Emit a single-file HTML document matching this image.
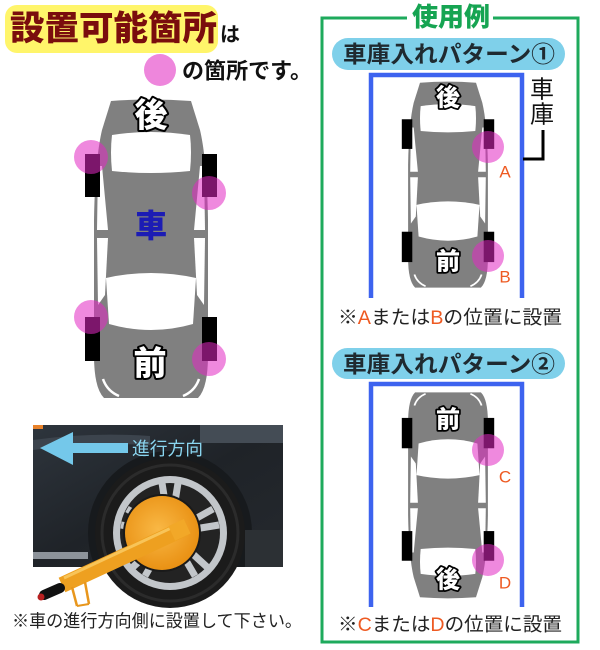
<!DOCTYPE html>
<html><head><meta charset="utf-8">
<style>
html,body{margin:0;padding:0;background:#fff;}
svg{display:block;}
text{font-family:"Liberation Sans","Noto Sans CJK JP",sans-serif;}
</style></head>
<body>
<svg width="600" height="650" viewBox="0 0 600 650" xmlns="http://www.w3.org/2000/svg">
<defs>
  <g id="car">
    <path d="M -40,1 Q 0,-2 40,1 L 49,30 Q 56,60 57,120 L 57,255 Q 57,288 47,298 L -47,298 Q -57,288 -57,255 L -57,120 Q -56,60 -49,30 Z" fill="#808080"/>
    <path d="M -39,35 Q 0,29 39,35 Q 41,52 39,71 Q 0,75 -39,71 Q -41,52 -39,35 Z" fill="#fff"/>
    <path d="M -53,66 L -49,66 L -43,130 L -54,130 Z" fill="#fff"/>
    <path d="M 53,66 L 49,66 L 43,130 L 54,130 Z" fill="#fff"/>
    <path d="M -54,138 L -43,138 L -46,195 L -53,205 Z" fill="#fff"/>
    <path d="M 54,138 L 43,138 L 46,195 L 53,205 Z" fill="#fff"/>
    <path d="M -45,178 Q 0,168 45,178 L 42,224 Q 0,236 -42,224 Z" fill="#fff"/>
    <path d="M -48,279 Q -44,291 -32,296" stroke="#fff" stroke-width="2.5" fill="none"/>
    <path d="M 48,279 Q 44,291 32,296" stroke="#fff" stroke-width="2.5" fill="none"/>
    <rect x="-66" y="54" width="15" height="43" fill="#000"/>
    <rect x="51" y="54" width="15" height="43" fill="#000"/>
    <rect x="-66" y="217" width="15" height="44" fill="#000"/>
    <rect x="51" y="217" width="15" height="44" fill="#000"/>
  </g>
  <radialGradient id="disk" cx="0.45" cy="0.45" r="0.6">
    <stop offset="0" stop-color="#f9b845"/>
    <stop offset="1" stop-color="#e88e10"/>
  </radialGradient>
  <linearGradient id="body" x1="0" y1="0" x2="1" y2="1">
    <stop offset="0" stop-color="#2e353d"/>
    <stop offset="0.5" stop-color="#1f2328"/>
    <stop offset="1" stop-color="#25292e"/>
  </linearGradient>
  <clipPath id="photo"><rect x="33" y="425" width="250" height="142"/></clipPath>
</defs>

<!-- Title -->
<rect x="5" y="5" width="213" height="48" rx="12" fill="#fff56a"/>
<text x="10" y="29" font-size="34" font-weight="900" fill="#7a0d0d" dominant-baseline="central" textLength="207" lengthAdjust="spacingAndGlyphs">設置可能箇所</text>
<text x="220" y="35" font-size="20" font-weight="700" fill="#111" dominant-baseline="central">は</text>
<circle cx="160" cy="70" r="16" fill="#ee86dc"/>
<text x="182" y="71" font-size="22" font-weight="700" fill="#111" dominant-baseline="central" textLength="130" lengthAdjust="spacingAndGlyphs">の箇所です。</text>

<!-- Left car -->
<use href="#car" transform="translate(151,100)"/>
<g fill="rgb(225,40,195)" fill-opacity="0.55">
  <circle cx="91" cy="157" r="17"/>
  <circle cx="209" cy="193" r="17"/>
  <circle cx="91" cy="317" r="17"/>
  <circle cx="209" cy="359" r="17"/>
</g>
<g font-size="33" font-weight="900" fill="#fff" stroke="#000" stroke-width="4" paint-order="stroke" stroke-linejoin="round" text-anchor="middle" dominant-baseline="central">
  <text x="151" y="115">後</text>
  <text x="150" y="363">前</text>
</g>
<text x="151" y="226" font-size="32" font-weight="900" fill="#1c1cb4" text-anchor="middle" dominant-baseline="central">車</text>

<!-- Photo -->
<g clip-path="url(#photo)">
  <rect x="33" y="425" width="250" height="142" fill="url(#body)"/>
  <rect x="200" y="425" width="83" height="18" fill="#444c55"/>
  <path d="M33,440 Q90,432 150,436 L150,445 Q90,442 33,450 Z" fill="#3c444d"/>
  <rect x="33" y="425" width="10" height="4" fill="#e8822a"/>
  <circle cx="170" cy="533" r="82" fill="#171a1d"/>
  <rect x="245" y="530" width="38" height="37" fill="#2c3034"/>
  <rect x="33" y="552" width="55" height="7" fill="#8d939a"/>
</g>
<circle cx="170" cy="533" r="75" fill="#1b1b1b"/>
<circle cx="170" cy="533" r="68" fill="none" stroke="#2b2b2b" stroke-width="3"/>
<circle cx="170" cy="533" r="57" fill="#c2c6ca"/>
<circle cx="170" cy="533" r="50" fill="#232323"/>
<g stroke="#c2c6ca" stroke-width="7">
  <line x1="170" y1="533" x2="162" y2="483"/><line x1="170" y1="533" x2="178" y2="483"/>
  <line x1="170" y1="533" x2="213" y2="509"/><line x1="170" y1="533" x2="219" y2="525"/>
  <line x1="170" y1="533" x2="207" y2="567"/><line x1="170" y1="533" x2="195" y2="576"/>
  <line x1="170" y1="533" x2="145" y2="576"/><line x1="170" y1="533" x2="133" y2="567"/>
  <line x1="170" y1="533" x2="121" y2="525"/><line x1="170" y1="533" x2="127" y2="509"/>
</g>
<circle cx="162" cy="533" r="39" fill="#1a1a1a"/>
<circle cx="162" cy="533" r="37" fill="url(#disk)"/>
<line x1="185" y1="528" x2="62" y2="585" stroke="#eea020" stroke-width="16"/>
<line x1="184" y1="522" x2="64" y2="578" stroke="#f8c458" stroke-width="3"/>
<rect x="171" y="522" width="17" height="16" fill="#f2a828" transform="rotate(-25 179 530)"/>
<line x1="72" y1="587" x2="77" y2="606" stroke="#e8961c" stroke-width="2.5"/>
<line x1="85" y1="582" x2="89" y2="604" stroke="#e8961c" stroke-width="2.5"/>
<line x1="77" y1="606" x2="89" y2="604" stroke="#e8961c" stroke-width="2"/>
<line x1="60" y1="588" x2="44" y2="595" stroke="#111" stroke-width="10" stroke-linecap="round"/>
<circle cx="41" cy="597" r="3.5" fill="#b82020"/>
<polygon points="40,448 73,432 73,443 128,443 128,453 73,453 73,465" fill="#74c8ea"/>
<text x="132" y="449" font-size="18" fill="#8ad6f0" dominant-baseline="central" textLength="71" lengthAdjust="spacingAndGlyphs">進行方向</text>
<text x="12" y="621" font-size="17.5" fill="#222" dominant-baseline="central" textLength="290" lengthAdjust="spacingAndGlyphs">※車の進行方向側に設置して下さい。</text>

<!-- Right panel frame -->
<path d="M407,18 L322,18 L322,642 L578,642 L578,18 L493,18" fill="none" stroke="#1eaa5c" stroke-width="3"/>
<text x="451" y="17" font-size="26" font-weight="900" fill="#16a452" text-anchor="middle" dominant-baseline="central">使用例</text>

<!-- Pattern 1 -->
<rect x="332" y="38" width="233" height="32" rx="16" fill="#7fd0ea"/>
<text x="449" y="54" font-size="23" font-weight="700" fill="#1f2a30" text-anchor="middle" dominant-baseline="central" textLength="212" lengthAdjust="spacingAndGlyphs">車庫入れパターン①</text>
<path d="M371,298 L371,75 L522,75 L522,298" fill="none" stroke="#3d63ef" stroke-width="4.5"/>
<use href="#car" transform="translate(448,82) scale(0.7,0.69)"/>
<g fill="rgb(225,40,195)" fill-opacity="0.55">
  <circle cx="488" cy="147" r="16"/>
  <circle cx="488" cy="256" r="16"/>
</g>
<g font-size="24" font-weight="900" fill="#fff" stroke="#000" stroke-width="3.5" paint-order="stroke" stroke-linejoin="round" text-anchor="middle" dominant-baseline="central">
  <text x="448" y="98">後</text>
  <text x="448" y="262">前</text>
</g>
<g font-size="17" fill="#ee5a22" text-anchor="middle" dominant-baseline="central">
  <text x="505" y="172">A</text>
  <text x="505" y="277">B</text>
</g>
<text x="542" y="90" font-size="24" fill="#111" text-anchor="middle" dominant-baseline="central">車</text>
<text x="542" y="115" font-size="24" fill="#111" text-anchor="middle" dominant-baseline="central">庫</text>
<path d="M543,130 L543,159 L523,159" fill="none" stroke="#000" stroke-width="3"/>
<text x="450" y="318" font-size="19" fill="#222" text-anchor="middle" dominant-baseline="central" textLength="224" lengthAdjust="spacingAndGlyphs">※<tspan fill="#ee5a22">A</tspan>または<tspan fill="#ee5a22">B</tspan>の位置に設置</text>

<!-- Pattern 2 -->
<rect x="332" y="348" width="233" height="31" rx="15.5" fill="#7fd0ea"/>
<text x="449" y="364" font-size="23" font-weight="700" fill="#1f2a30" text-anchor="middle" dominant-baseline="central" textLength="212" lengthAdjust="spacingAndGlyphs">車庫入れパターン②</text>
<path d="M371,607 L371,384 L522,384 L522,607" fill="none" stroke="#3d63ef" stroke-width="4.5"/>
<use href="#car" transform="translate(448,598) scale(-0.7,-0.69)"/>
<g fill="rgb(225,40,195)" fill-opacity="0.55">
  <circle cx="488" cy="450" r="16"/>
  <circle cx="488" cy="560" r="16"/>
</g>
<g font-size="24" font-weight="900" fill="#fff" stroke="#000" stroke-width="3.5" paint-order="stroke" stroke-linejoin="round" text-anchor="middle" dominant-baseline="central">
  <text x="448" y="420">前</text>
  <text x="448" y="580">後</text>
</g>
<g font-size="17" fill="#ee5a22" text-anchor="middle" dominant-baseline="central">
  <text x="505" y="477">C</text>
  <text x="505" y="583">D</text>
</g>
<text x="450" y="625" font-size="19" fill="#222" text-anchor="middle" dominant-baseline="central" textLength="224" lengthAdjust="spacingAndGlyphs">※<tspan fill="#ee5a22">C</tspan>または<tspan fill="#ee5a22">D</tspan>の位置に設置</text>
</svg>
</body></html>
